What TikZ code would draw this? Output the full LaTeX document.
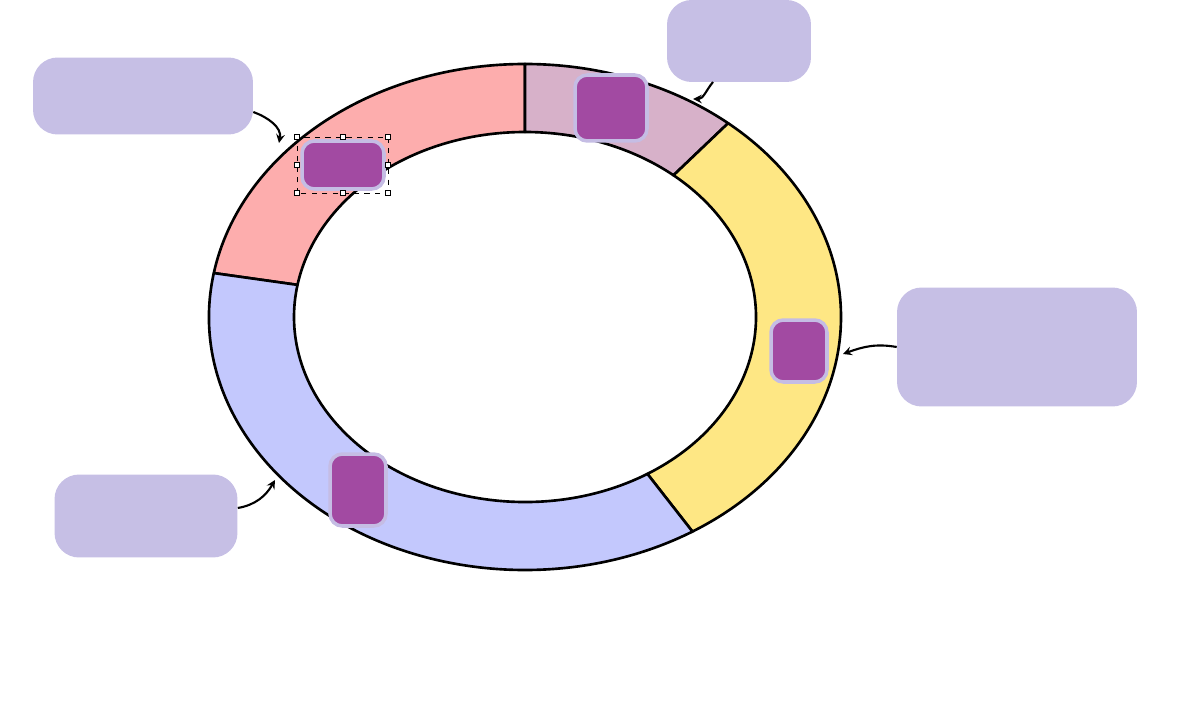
\documentclass[tikz,border=0pt]{standalone}
\usetikzlibrary{positioning,calc}
\definecolor{segpink}{HTML}{FDADAD}
\definecolor{segmauve}{HTML}{D7B1C9}
\definecolor{segyellow}{HTML}{FEE784}
\definecolor{segblue}{HTML}{C3C8FD}
\definecolor{chip}{HTML}{A24AA2}
\definecolor{chipedge}{HTML}{C5BDE4}
\definecolor{note}{HTML}{C6BFE5}
\tikzset{chip node/.style={rectangle,rounded corners=7pt,fill=chip,draw=chipedge,line width=2pt,inner sep=0pt},
         note node/.style={rectangle,rounded corners=14pt,fill=note,draw=none,inner sep=0pt},
         handle/.style={rectangle,fill=white,draw=black,line width=0.4pt,minimum size=3pt,inner sep=0pt}
}
\newcommand{\ringseg}[3]{%
  \filldraw[fill=#3,draw=black,line width=1.5pt,line join=round]
    ($(525,394)+(#1:316 and 253)$) arc[start angle=#1,end angle=#2,x radius=316,y radius=253]
    -- ($(525,394)+(#2:231 and 185)$) arc[start angle=#2,end angle=#1,x radius=231,y radius=185]
    -- cycle;}

\begin{document}
\begin{tikzpicture}[x=0.02cm,y=0.02cm,>=stealth]
\useasboundingbox (0,0) rectangle (1193,711);

% ring
\ringseg{90}{170}{segpink}
\ringseg{50}{90}{segmauve}
\ringseg{-58}{50}{segyellow}
\ringseg{170}{302}{segblue}

% chips
\node[chip node,minimum width=1.44cm,minimum height=1.32cm] (c1) at (611,603) {};
\node[chip node,minimum width=1.12cm,minimum height=1.24cm] (c2) at (799,360) {};
\node[chip node,minimum width=1.12cm,minimum height=1.44cm] (c3) at (358,221) {};
\node[chip node,minimum width=1.64cm,minimum height=0.96cm] (c4) at (343,546) {};

% selection frame
\draw[dashed,line width=0.4pt] (297,518) rectangle (388,574);
\foreach \x in {297,343,388}
  \foreach \y in {518,574}
    \node[handle] at (\x,\y) {};
\node[handle] at (297,546) {};
\node[handle] at (388,546) {};

% notes
\node[note node,minimum width=4.4cm,minimum height=1.54cm] (nA) at (143,615) {};
\node[note node,minimum width=2.88cm,minimum height=1.64cm] (nB) at (739,670) {};
\node[note node,minimum width=4.8cm,minimum height=2.38cm] (nC) at (1017,364) {};
\node[note node,minimum width=3.66cm,minimum height=1.66cm] (nD) at (146,195) {};

\coordinate (tA) at (279,568);
\coordinate (tB) at (693,612);
\coordinate (tC) at (843,357);
\coordinate (tD) at (275,231);

\draw[->,line width=1.2pt] (nA.east|-0,599) to[out=-20,in=80] (tA);
\draw[->,line width=1.2pt] (713,629) to[out=-130,in=0] (tB);
\draw[->,line width=1.2pt] (nC.west|-0,364) to[out=170,in=20] (tC);
\draw[->,line width=1.2pt] (nD.east|-0,203) to[out=10,in=-120] (tD);
\end{tikzpicture}
\end{document}
